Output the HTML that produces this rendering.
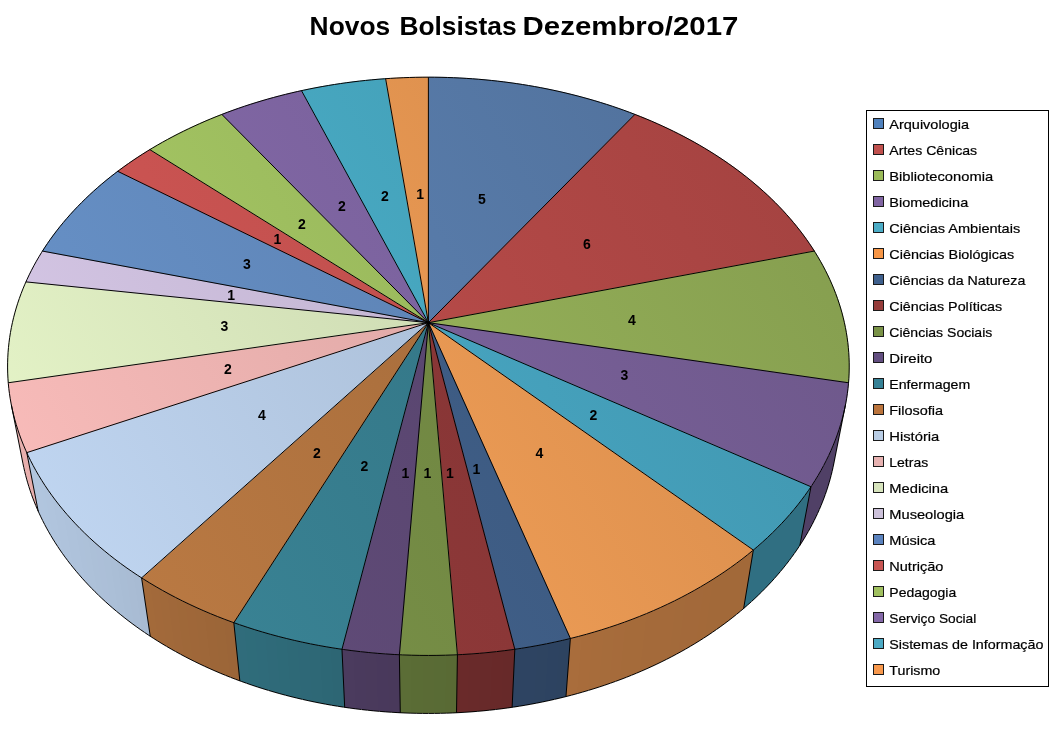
<!DOCTYPE html>
<html lang="pt-BR"><head><meta charset="utf-8"><title>Novos Bolsistas Dezembro/2017</title>
<style>html,body{margin:0;padding:0;background:#fff}body{width:1052px;height:740px;position:relative;overflow:hidden}</style>
</head><body>
<svg width="1052" height="740" viewBox="0 0 1052 740" style="position:absolute;left:0;top:0">
<g shape-rendering="crispEdges">
<polygon points="845.37,405.32 843.36,414.37 831.76,472.95 833.77,463.89" fill="#504066"/>
<polygon points="843.74,412.83 841.37,421.88 829.79,480.46 832.13,471.40" fill="#504066"/>
<polygon points="841.81,420.33 839.09,429.37 827.52,487.96 830.22,478.91" fill="#504066"/>
<polygon points="839.58,427.82 836.50,436.84 824.97,495.44 828.01,486.41" fill="#504066"/>
<polygon points="837.06,435.30 833.62,444.30 822.13,502.89 825.52,493.90" fill="#504066"/>
<polygon points="834.24,442.76 830.44,451.72 818.99,510.32 822.74,501.36" fill="#504066"/>
<polygon points="831.12,450.20 826.95,459.12 815.56,517.71 819.66,508.79" fill="#504066"/>
<polygon points="827.70,457.59 823.16,466.47 811.84,525.06 816.29,516.19" fill="#504066"/>
<polygon points="823.97,464.96 819.07,473.77 807.83,532.36 812.63,523.55" fill="#504066"/>
<polygon points="819.94,472.27 814.68,481.03 803.53,539.61 808.68,530.86" fill="#504066"/>
<polygon points="815.61,479.53 810.98,486.74 799.90,545.32 804.44,538.12" fill="#504066"/>
<polygon points="810.98,486.74 805.33,494.88 794.37,553.45 799.90,545.32" fill="#306f82"/>
<polygon points="806.38,493.41 800.41,501.47 789.56,560.03 795.40,551.98" fill="#306f82"/>
<polygon points="801.52,500.02 795.23,508.00 784.50,566.55 790.64,558.58" fill="#306f82"/>
<polygon points="796.39,506.57 789.78,514.46 779.18,572.99 785.64,565.12" fill="#306f82"/>
<polygon points="791.01,513.04 784.08,520.83 773.62,579.36 780.38,571.58" fill="#306f82"/>
<polygon points="785.37,519.43 778.13,527.12 767.81,585.63 774.87,577.96" fill="#306f82"/>
<polygon points="779.47,525.74 771.92,533.32 761.75,591.82 769.11,584.26" fill="#306f82"/>
<polygon points="773.31,531.96 765.45,539.43 755.45,597.91 763.11,590.46" fill="#306f82"/>
<polygon points="766.90,538.09 758.74,545.43 748.91,603.90 756.86,596.58" fill="#306f82"/>
<polygon points="760.24,544.12 753.34,550.04 743.65,608.49 750.37,602.59" fill="#306f82"/>
<polygon points="753.34,550.04 744.19,557.42 734.74,615.85 743.65,608.49" fill="#a26939"/>
<polygon points="745.80,556.15 736.34,563.38 727.09,621.79 736.31,614.59" fill="#a26939"/>
<polygon points="738.01,562.14 728.22,569.20 719.20,627.59 728.72,620.56" fill="#a26939"/>
<polygon points="729.94,567.99 719.85,574.88 711.06,633.25 720.88,626.39" fill="#a26939"/>
<polygon points="721.63,573.70 711.23,580.41 702.67,638.76 712.78,632.08" fill="#a26939"/>
<polygon points="713.06,579.26 702.36,585.78 694.05,644.12 704.45,637.62" fill="#a36939"/>
<polygon points="704.24,584.67 693.25,591.00 685.20,649.31 695.88,643.01" fill="#a3693a"/>
<polygon points="695.18,589.92 683.91,596.05 676.13,654.34 687.08,648.24" fill="#a3693a"/>
<polygon points="685.89,595.00 674.35,600.92 666.84,659.20 678.05,653.30" fill="#a36a3a"/>
<polygon points="676.37,599.91 664.56,605.62 657.34,663.88 668.81,658.19" fill="#a46a3a"/>
<polygon points="666.63,604.65 654.57,610.14 647.63,668.37 659.35,662.91" fill="#a46a3a"/>
<polygon points="656.68,609.21 644.37,614.46 637.73,672.68 649.69,667.44" fill="#a46a3a"/>
<polygon points="646.52,613.57 633.97,618.60 627.65,676.79 639.83,671.79" fill="#a56b3a"/>
<polygon points="636.17,617.75 623.39,622.53 617.38,680.71 629.78,675.95" fill="#a56b3a"/>
<polygon points="625.62,621.72 612.63,626.27 606.94,684.42 619.55,679.91" fill="#a66b3b"/>
<polygon points="614.90,625.50 601.70,629.79 596.34,687.93 609.14,683.66" fill="#a66c3b"/>
<polygon points="604.00,629.07 590.61,633.10 585.58,691.23 598.57,687.21" fill="#a76c3b"/>
<polygon points="592.95,632.43 579.36,636.20 574.68,694.31 587.85,690.55" fill="#a86c3b"/>
<polygon points="581.73,635.57 570.38,638.49 565.97,696.59 576.98,693.68" fill="#a96d3c"/>
<polygon points="570.38,638.49 557.05,641.60 553.05,699.68 565.97,696.59" fill="#2d4360"/>
<polygon points="559.47,641.06 546.00,643.92 542.34,701.99 555.40,699.14" fill="#2d4361"/>
<polygon points="548.45,643.43 534.86,646.04 531.55,704.09 544.72,701.50" fill="#2e4461"/>
<polygon points="537.33,645.59 523.63,647.94 520.66,705.99 533.94,703.65" fill="#2e4462"/>
<polygon points="526.12,647.54 514.82,649.28 512.12,707.32 523.07,705.59" fill="#2e4462"/>
<polygon points="514.82,649.28 500.93,651.12 498.66,709.14 512.12,707.32" fill="#672929"/>
<polygon points="503.45,650.81 489.48,652.38 487.57,710.40 501.10,708.84" fill="#682929"/>
<polygon points="492.01,652.12 477.98,653.43 476.43,711.44 490.02,710.14" fill="#682a2a"/>
<polygon points="480.52,653.22 466.43,654.26 465.24,712.27 478.89,711.23" fill="#692a2a"/>
<polygon points="468.98,654.10 457.41,654.76 456.51,712.76 467.72,712.11" fill="#6a2a2a"/>
<polygon points="457.41,654.76 443.26,655.26 442.79,713.27 456.51,712.76" fill="#596a34"/>
<polygon points="445.82,655.20 431.64,655.44 431.54,713.44 445.27,713.20" fill="#596b35"/>
<polygon points="434.21,655.42 420.03,655.39 420.29,713.39 434.03,713.42" fill="#5a6b35"/>
<polygon points="422.59,655.42 408.42,655.12 409.04,713.12 422.77,713.42" fill="#5a6c35"/>
<polygon points="410.98,655.20 399.39,654.76 400.29,712.76 411.53,713.20" fill="#5b6d36"/>
<polygon points="399.39,654.76 385.27,653.92 386.61,711.93 400.29,712.76" fill="#49395b"/>
<polygon points="387.82,654.10 373.74,653.00 375.45,711.01 389.08,712.11" fill="#49395c"/>
<polygon points="376.28,653.22 362.26,651.85 364.33,709.87 377.91,711.23" fill="#4a3a5c"/>
<polygon points="364.79,652.12 350.84,650.49 353.26,708.52 366.78,710.14" fill="#4a3a5d"/>
<polygon points="353.35,650.81 341.98,649.28 344.68,707.32 355.70,708.84" fill="#4b3b5e"/>
<polygon points="341.98,649.28 328.20,647.13 331.32,705.18 344.68,707.32" fill="#2d6674"/>
<polygon points="330.68,647.54 317.01,645.13 320.47,703.19 333.73,705.59" fill="#2d6775"/>
<polygon points="319.47,645.59 305.91,642.92 309.72,701.00 322.86,703.65" fill="#2e6876"/>
<polygon points="308.35,643.43 294.91,640.51 299.06,698.60 312.08,701.50" fill="#2e6877"/>
<polygon points="297.33,641.06 284.03,637.90 288.51,695.99 301.40,699.14" fill="#2e6977"/>
<polygon points="286.42,638.49 273.26,635.08 278.07,693.19 290.83,696.59" fill="#2e6a78"/>
<polygon points="275.63,635.72 262.63,632.07 267.76,690.20 280.37,693.83" fill="#2f6a79"/>
<polygon points="264.97,632.75 252.14,628.86 257.59,687.01 270.03,690.88" fill="#2f6b7a"/>
<polygon points="254.44,629.59 241.79,625.46 247.55,683.63 259.82,687.73" fill="#2f6c7a"/>
<polygon points="244.07,626.23 233.84,622.69 239.84,680.86 249.76,684.39" fill="#306c7b"/>
<polygon points="233.84,622.69 221.57,618.11 227.94,676.31 239.84,680.86" fill="#9b6538"/>
<polygon points="223.77,618.96 211.72,614.17 218.37,672.39 230.07,677.16" fill="#9c6638"/>
<polygon points="213.88,615.06 202.03,610.05 208.97,668.29 220.47,673.27" fill="#9d6638"/>
<polygon points="204.16,610.98 192.54,605.76 199.75,664.02 211.03,669.21" fill="#9e6739"/>
<polygon points="194.62,606.72 183.23,601.31 190.72,659.58 201.77,664.97" fill="#9f6739"/>
<polygon points="185.27,602.31 174.12,596.69 181.87,654.99 192.70,660.57" fill="#9f6839"/>
<polygon points="176.12,597.73 165.21,591.92 173.22,650.23 183.81,656.01" fill="#a0683a"/>
<polygon points="167.16,592.99 156.52,587.00 164.77,645.33 175.11,651.30" fill="#a1693a"/>
<polygon points="158.42,588.10 148.04,581.93 156.52,640.28 166.61,646.43" fill="#a2693a"/>
<polygon points="149.89,583.06 141.58,577.88 150.24,636.25 158.32,641.41" fill="#a36a3a"/>
<polygon points="141.58,577.88 131.32,571.09 140.27,629.48 150.24,636.25" fill="#a8bbd3"/>
<polygon points="133.07,572.28 123.12,565.32 132.29,623.72 141.97,630.67" fill="#a9bcd4"/>
<polygon points="124.82,566.54 115.18,559.40 124.56,617.83 133.94,624.94" fill="#a9bdd5"/>
<polygon points="116.82,560.65 107.50,553.36 117.09,611.80 126.16,619.08" fill="#aabed6"/>
<polygon points="109.09,554.64 100.09,547.18 109.87,605.65 118.63,613.08" fill="#abbfd7"/>
<polygon points="101.62,548.49 92.95,540.89 102.92,599.37 111.36,606.95" fill="#acbfd8"/>
<polygon points="94.43,542.22 86.09,534.49 96.23,592.99 104.35,600.70" fill="#acc0d8"/>
<polygon points="87.51,535.84 79.51,527.98 89.81,586.49 97.61,594.33" fill="#adc1d9"/>
<polygon points="80.87,529.35 73.21,521.37 83.66,579.89 91.14,587.86" fill="#adc1da"/>
<polygon points="74.51,522.76 67.19,514.66 77.79,573.20 84.93,581.28" fill="#aec2db"/>
<polygon points="68.43,516.07 61.46,507.87 72.20,566.42 79.00,574.61" fill="#aec2db"/>
<polygon points="62.64,509.30 56.02,500.99 66.88,559.55 73.35,567.85" fill="#afc3dc"/>
<polygon points="57.14,502.44 50.87,494.04 61.84,552.61 67.97,561.00" fill="#afc3dc"/>
<polygon points="51.93,495.51 46.01,487.02 57.09,545.60 62.88,554.07" fill="#b0c4dd"/>
<polygon points="47.01,488.50 41.44,479.94 52.61,538.53 58.06,547.08" fill="#b0c4dd"/>
<polygon points="42.38,481.43 37.17,472.81 48.42,531.40 53.53,540.02" fill="#b0c5de"/>
<polygon points="38.04,474.31 33.18,465.62 44.51,524.21 49.27,532.90" fill="#b1c5de"/>
<polygon points="33.99,467.13 29.49,458.39 40.88,516.98 45.31,525.72" fill="#b1c5de"/>
<polygon points="30.24,459.91 26.78,452.64 38.22,511.24 41.62,518.50" fill="#b1c5df"/>
<polygon points="26.78,452.64 23.22,444.40 34.72,503.00 38.22,511.24" fill="#e7aeac"/>
<polygon points="23.85,445.93 20.60,437.66 32.13,496.25 35.34,504.53" fill="#e7aead"/>
<polygon points="21.17,439.20 18.22,430.90 29.78,489.49 32.70,497.79" fill="#e7afad"/>
<polygon points="18.74,432.44 16.08,424.13 27.66,482.72 30.29,491.04" fill="#e7afad"/>
<polygon points="16.55,425.67 14.19,417.35 25.79,475.93 28.13,484.26" fill="#e7afad"/>
<polygon points="14.60,418.89 12.54,410.56 24.14,469.13 26.19,477.48" fill="#e7afad"/>
<polygon points="12.89,412.11 11.43,405.32 23.03,463.89 24.50,470.68" fill="#e7afad"/>
</g>
<defs>
<linearGradient id="g0" gradientUnits="userSpaceOnUse" x1="857.1" y1="65.5" x2="-0.3" y2="579.9"><stop offset="0" stop-color="#4e6d96"/><stop offset="1" stop-color="#628abe"/></linearGradient>
<linearGradient id="g1" gradientUnits="userSpaceOnUse" x1="857.1" y1="65.5" x2="-0.3" y2="579.9"><stop offset="0" stop-color="#a0413f"/><stop offset="1" stop-color="#ca5250"/></linearGradient>
<linearGradient id="g2" gradientUnits="userSpaceOnUse" x1="857.1" y1="65.5" x2="-0.3" y2="579.9"><stop offset="0" stop-color="#829a4d"/><stop offset="1" stop-color="#a5c362"/></linearGradient>
<linearGradient id="g3" gradientUnits="userSpaceOnUse" x1="857.1" y1="65.5" x2="-0.3" y2="579.9"><stop offset="0" stop-color="#6a5586"/><stop offset="1" stop-color="#866baa"/></linearGradient>
<linearGradient id="g4" gradientUnits="userSpaceOnUse" x1="857.1" y1="65.5" x2="-0.3" y2="579.9"><stop offset="0" stop-color="#3e90a8"/><stop offset="1" stop-color="#4eb5d4"/></linearGradient>
<linearGradient id="g5" gradientUnits="userSpaceOnUse" x1="857.1" y1="65.5" x2="-0.3" y2="579.9"><stop offset="0" stop-color="#cf8649"/><stop offset="1" stop-color="#ffa95c"/></linearGradient>
<linearGradient id="g6" gradientUnits="userSpaceOnUse" x1="857.1" y1="65.5" x2="-0.3" y2="579.9"><stop offset="0" stop-color="#365174"/><stop offset="1" stop-color="#456692"/></linearGradient>
<linearGradient id="g7" gradientUnits="userSpaceOnUse" x1="857.1" y1="65.5" x2="-0.3" y2="579.9"><stop offset="0" stop-color="#783030"/><stop offset="1" stop-color="#983c3c"/></linearGradient>
<linearGradient id="g8" gradientUnits="userSpaceOnUse" x1="857.1" y1="65.5" x2="-0.3" y2="579.9"><stop offset="0" stop-color="#63773b"/><stop offset="1" stop-color="#7e974a"/></linearGradient>
<linearGradient id="g9" gradientUnits="userSpaceOnUse" x1="857.1" y1="65.5" x2="-0.3" y2="579.9"><stop offset="0" stop-color="#4f3e63"/><stop offset="1" stop-color="#644e7d"/></linearGradient>
<linearGradient id="g10" gradientUnits="userSpaceOnUse" x1="857.1" y1="65.5" x2="-0.3" y2="579.9"><stop offset="0" stop-color="#2f6a79"/><stop offset="1" stop-color="#3b8799"/></linearGradient>
<linearGradient id="g11" gradientUnits="userSpaceOnUse" x1="857.1" y1="65.5" x2="-0.3" y2="579.9"><stop offset="0" stop-color="#966236"/><stop offset="1" stop-color="#be7c44"/></linearGradient>
<linearGradient id="g12" gradientUnits="userSpaceOnUse" x1="857.1" y1="65.5" x2="-0.3" y2="579.9"><stop offset="0" stop-color="#99abc1"/><stop offset="1" stop-color="#c2d8f4"/></linearGradient>
<linearGradient id="g13" gradientUnits="userSpaceOnUse" x1="857.1" y1="65.5" x2="-0.3" y2="579.9"><stop offset="0" stop-color="#c79795"/><stop offset="1" stop-color="#fcbebc"/></linearGradient>
<linearGradient id="g14" gradientUnits="userSpaceOnUse" x1="857.1" y1="65.5" x2="-0.3" y2="579.9"><stop offset="0" stop-color="#b7c3a0"/><stop offset="1" stop-color="#e8f7ca"/></linearGradient>
<linearGradient id="g15" gradientUnits="userSpaceOnUse" x1="857.1" y1="65.5" x2="-0.3" y2="579.9"><stop offset="0" stop-color="#ada1ba"/><stop offset="1" stop-color="#dacbeb"/></linearGradient>
<linearGradient id="g16" gradientUnits="userSpaceOnUse" x1="857.1" y1="65.5" x2="-0.3" y2="579.9"><stop offset="0" stop-color="#5476a2"/><stop offset="1" stop-color="#6a95cd"/></linearGradient>
<linearGradient id="g17" gradientUnits="userSpaceOnUse" x1="857.1" y1="65.5" x2="-0.3" y2="579.9"><stop offset="0" stop-color="#ab4745"/><stop offset="1" stop-color="#d85957"/></linearGradient>
<linearGradient id="g18" gradientUnits="userSpaceOnUse" x1="857.1" y1="65.5" x2="-0.3" y2="579.9"><stop offset="0" stop-color="#89a553"/><stop offset="1" stop-color="#aed168"/></linearGradient>
<linearGradient id="g19" gradientUnits="userSpaceOnUse" x1="857.1" y1="65.5" x2="-0.3" y2="579.9"><stop offset="0" stop-color="#6e588d"/><stop offset="1" stop-color="#8b6fb2"/></linearGradient>
<linearGradient id="g20" gradientUnits="userSpaceOnUse" x1="857.1" y1="65.5" x2="-0.3" y2="579.9"><stop offset="0" stop-color="#3e93a9"/><stop offset="1" stop-color="#4fbad6"/></linearGradient>
<linearGradient id="g21" gradientUnits="userSpaceOnUse" x1="857.1" y1="65.5" x2="-0.3" y2="579.9"><stop offset="0" stop-color="#cd8548"/><stop offset="1" stop-color="#ffa85b"/></linearGradient>
</defs>
<g>
<polygon points="428.40,322.70 428.40,77.19 434.70,77.22 441.00,77.32 447.30,77.48 453.59,77.71 459.88,78.00 466.17,78.36 472.45,78.78 478.72,79.26 484.98,79.82 491.22,80.43 497.46,81.11 503.69,81.86 509.90,82.66 516.09,83.54 522.27,84.48 528.43,85.48 534.58,86.54 540.70,87.68 546.80,88.87 552.88,90.13 558.94,91.45 564.97,92.84 570.97,94.29 576.95,95.80 582.90,97.38 588.82,99.02 594.71,100.73 600.56,102.49 606.38,104.32 612.17,106.22 617.92,108.17 623.64,110.19 629.32,112.27 634.95,114.42" fill="url(#g0)" stroke="#5578a5" stroke-width="0.6"/>
<polygon points="428.40,322.70 634.95,114.42 640.52,116.61 646.05,118.86 651.53,121.18 656.97,123.56 662.36,125.99 667.70,128.49 673.00,131.05 678.25,133.67 683.44,136.34 688.59,139.08 693.68,141.87 698.71,144.73 703.69,147.64 708.61,150.61 713.47,153.63 718.26,156.72 723.00,159.86 727.67,163.06 732.28,166.31 736.83,169.62 741.30,172.99 745.71,176.41 750.04,179.88 754.30,183.41 758.49,186.99 762.61,190.62 766.64,194.31 770.60,198.05 774.49,201.84 778.29,205.68 782.00,209.57 785.64,213.51 789.19,217.49 792.65,221.53 796.02,225.62 799.31,229.75 802.50,233.92 805.61,238.14 808.61,242.41 811.53,246.72 814.34,251.07" fill="url(#g1)" stroke="#ac4644" stroke-width="0.6"/>
<polygon points="428.40,322.70 814.34,251.07 817.00,255.36 819.55,259.69 822.02,264.06 824.38,268.46 826.65,272.90 828.81,277.38 830.88,281.89 832.84,286.44 834.69,291.02 836.44,295.63 838.09,300.27 839.62,304.94 841.05,309.64 842.37,314.36 843.57,319.12 844.66,323.90 845.64,328.70 846.50,333.53 847.25,338.37 847.87,343.24 848.38,348.13 848.77,353.03 849.04,357.96 849.19,362.89 849.21,367.84 849.11,372.81 848.89,377.78 848.53,382.77" fill="url(#g2)" stroke="#8ca653" stroke-width="0.6"/>
<polygon points="428.40,322.70 848.53,382.77 848.06,387.76 847.45,392.75 846.72,397.76 845.86,402.76 844.87,407.77 843.75,412.78 842.50,417.79 841.11,422.79 839.60,427.79 837.95,432.78 836.17,437.76 834.25,442.74 832.20,447.70 830.02,452.64 827.70,457.58 825.25,462.49 822.67,467.39 819.95,472.26 817.09,477.11 814.10,481.94 810.98,486.74" fill="url(#g3)" stroke="#735c92" stroke-width="0.6"/>
<polygon points="428.40,322.70 810.98,486.74 807.72,491.51 804.33,496.25 800.80,500.96 797.14,505.64 793.35,510.27 789.42,514.87 785.37,519.43 781.18,523.95 776.86,528.42 772.41,532.84 767.83,537.22 763.13,541.54 758.30,545.82 753.34,550.04" fill="url(#g4)" stroke="#449eb9" stroke-width="0.6"/>
<polygon points="428.40,322.70 753.34,550.04 748.26,554.20 743.05,558.30 737.72,562.35 732.27,566.33 726.71,570.25 721.02,574.10 715.22,577.88 709.31,581.60 703.28,585.24 697.14,588.81 690.90,592.30 684.55,595.71 678.09,599.05 671.53,602.31 664.87,605.48 658.12,608.57 651.27,611.57 644.32,614.48 637.29,617.31 630.17,620.04 622.96,622.69 615.67,625.24 608.30,627.69 600.86,630.05 593.34,632.31 585.76,634.47 578.10,636.53 570.38,638.49" fill="url(#g5)" stroke="#e89652" stroke-width="0.6"/>
<polygon points="428.40,322.70 570.38,638.49 562.60,640.35 554.76,642.10 546.87,643.75 538.92,645.29 530.93,646.73 522.90,648.06 514.82,649.28" fill="url(#g6)" stroke="#3e5c84" stroke-width="0.6"/>
<polygon points="428.40,322.70 514.82,649.28 506.70,650.40 498.55,651.40 490.37,652.29 482.16,653.08 473.93,653.75 465.68,654.31 457.41,654.76" fill="url(#g7)" stroke="#8a3737" stroke-width="0.6"/>
<polygon points="428.40,322.70 457.41,654.76 449.13,655.09 440.84,655.32 432.55,655.43 424.25,655.43 415.96,655.32 407.67,655.09 399.39,654.76" fill="url(#g8)" stroke="#738a44" stroke-width="0.6"/>
<polygon points="428.40,322.70 399.39,654.76 391.12,654.31 382.87,653.75 374.64,653.08 366.43,652.29 358.25,651.40 350.10,650.40 341.98,649.28" fill="url(#g9)" stroke="#5c4873" stroke-width="0.6"/>
<polygon points="428.40,322.70 341.98,649.28 333.90,648.06 325.87,646.73 317.88,645.29 309.93,643.75 302.04,642.10 294.20,640.35 286.42,638.49 278.70,636.53 271.04,634.47 263.46,632.31 255.94,630.05 248.50,627.69 241.13,625.24 233.84,622.69" fill="url(#g10)" stroke="#377d8e" stroke-width="0.6"/>
<polygon points="428.40,322.70 233.84,622.69 226.63,620.04 219.51,617.31 212.48,614.48 205.53,611.57 198.68,608.57 191.93,605.48 185.27,602.31 178.71,599.05 172.25,595.71 165.90,592.30 159.66,588.81 153.52,585.24 147.49,581.60 141.58,577.88" fill="url(#g11)" stroke="#b27440" stroke-width="0.6"/>
<polygon points="428.40,322.70 141.58,577.88 135.78,574.10 130.09,570.25 124.53,566.33 119.08,562.35 113.75,558.30 108.54,554.20 103.46,550.04 98.50,545.82 93.67,541.54 88.97,537.22 84.39,532.84 79.94,528.42 75.62,523.95 71.43,519.43 67.38,514.87 63.45,510.27 59.66,505.64 56.00,500.96 52.47,496.25 49.08,491.51 45.82,486.74 42.70,481.94 39.71,477.11 36.85,472.26 34.13,467.39 31.55,462.49 29.10,457.58 26.78,452.64" fill="url(#g12)" stroke="#b7cce6" stroke-width="0.6"/>
<polygon points="428.40,322.70 26.78,452.64 24.60,447.70 22.55,442.74 20.63,437.76 18.85,432.78 17.20,427.79 15.69,422.79 14.30,417.79 13.05,412.78 11.93,407.77 10.94,402.76 10.08,397.76 9.35,392.75 8.74,387.76 8.27,382.77" fill="url(#g13)" stroke="#eeb4b2" stroke-width="0.6"/>
<polygon points="428.40,322.70 8.27,382.77 7.91,377.78 7.69,372.81 7.59,367.84 7.61,362.89 7.76,357.96 8.03,353.03 8.42,348.13 8.93,343.24 9.55,338.37 10.30,333.53 11.16,328.70 12.14,323.90 13.23,319.12 14.43,314.36 15.75,309.64 17.18,304.94 18.71,300.27 20.36,295.63 22.11,291.02 23.96,286.44 25.92,281.89" fill="url(#g14)" stroke="#dae8be" stroke-width="0.6"/>
<polygon points="428.40,322.70 25.92,281.89 27.99,277.38 30.15,272.90 32.42,268.46 34.78,264.06 37.25,259.69 39.80,255.36 42.46,251.07" fill="url(#g15)" stroke="#ccbedc" stroke-width="0.6"/>
<polygon points="428.40,322.70 42.46,251.07 45.21,246.82 48.05,242.61 50.98,238.45 54.00,234.32 57.11,230.24 60.30,226.20 63.58,222.21 66.95,218.26 70.39,214.36 73.92,210.50 77.53,206.69 81.22,202.93 84.99,199.21 88.83,195.55 92.74,191.93 96.73,188.37 100.79,184.85 104.92,181.38 109.12,177.97 113.39,174.61 117.73,171.30" fill="url(#g16)" stroke="#628abe" stroke-width="0.6"/>
<polygon points="428.40,322.70 117.73,171.30 122.13,168.04 126.59,164.83 131.12,161.68 135.71,158.58 140.36,155.54 145.06,152.55 149.83,149.61" fill="url(#g17)" stroke="#c65250" stroke-width="0.6"/>
<polygon points="428.40,322.70 149.83,149.61 154.65,146.73 159.52,143.90 164.45,141.14 169.43,138.42 174.47,135.76 179.55,133.16 184.68,130.62 189.86,128.13 195.08,125.70 200.35,123.33 205.66,121.01 211.02,118.76 216.41,116.56 221.85,114.42" fill="url(#g18)" stroke="#9ebe5f" stroke-width="0.6"/>
<polygon points="428.40,322.70 221.85,114.42 227.32,112.33 232.83,110.31 238.38,108.34 243.97,106.44 249.59,104.59 255.24,102.80 260.92,101.07 266.63,99.41 272.38,97.80 278.15,96.25 283.95,94.76 289.77,93.33 295.62,91.96 301.49,90.65" fill="url(#g19)" stroke="#7d64a0" stroke-width="0.6"/>
<polygon points="428.40,322.70 301.49,90.65 307.39,89.40 313.31,88.21 319.25,87.09 325.20,86.02 331.18,85.01 337.17,84.07 343.18,83.18 349.21,82.36 355.25,81.59 361.30,80.89 367.36,80.25 373.43,79.67 379.52,79.15 385.61,78.69" fill="url(#g20)" stroke="#46a5be" stroke-width="0.6"/>
<polygon points="428.40,322.70 385.61,78.69 391.71,78.29 397.81,77.96 403.92,77.68 410.04,77.47 416.16,77.31 422.28,77.22 428.40,77.19" fill="url(#g21)" stroke="#e49450" stroke-width="0.6"/>
</g>
<g fill="none" stroke="#000" stroke-width="0.99" shape-rendering="crispEdges" stroke-linejoin="round">
<polyline points="845.37,405.32 833.77,463.89 832.97,467.70 832.11,471.51 831.17,475.31 830.16,479.12 829.07,482.92 827.91,486.72 826.68,490.52 825.37,494.31 823.99,498.10 822.53,501.87 821.00,505.64 819.39,509.41 817.71,513.16 815.95,516.90 814.12,520.64 812.21,524.36 810.23,528.07 808.17,531.77 806.04,535.45 803.83,539.12 801.54,542.77 799.18,546.41 796.75,550.03 794.24,553.63 791.66,557.21 789.00,560.77 786.27,564.32 783.46,567.84 780.58,571.34 777.63,574.81 774.60,578.26 771.50,581.69 768.32,585.09 765.08,588.46 761.76,591.81 758.37,595.13 754.91,598.42 751.38,601.68 747.78,604.90 744.10,608.10 740.36,611.26 736.55,614.39 732.67,617.49 728.73,620.55 724.71,623.57 720.63,626.56 716.49,629.51 712.28,632.42 708.00,635.30 703.67,638.13 699.26,640.92 694.80,643.67 690.28,646.37 685.69,649.04 681.05,651.65 676.34,654.23 671.58,656.76 666.76,659.24 661.89,661.67 656.96,664.06 651.98,666.39 646.94,668.68 641.85,670.92 636.71,673.11 631.53,675.24 626.29,677.33 621.00,679.36 615.67,681.34 610.30,683.26 604.88,685.13 599.41,686.94 593.91,688.70 588.36,690.40 582.78,692.04 577.16,693.63 571.50,695.16 565.81,696.63 560.08,698.04 554.32,699.39 548.53,700.68 542.71,701.92 536.86,703.09 530.98,704.20 525.08,705.25 519.16,706.23 513.21,707.16 507.24,708.02 501.25,708.82 495.24,709.56 489.22,710.23 483.18,710.84 477.13,711.38 471.07,711.87 464.99,712.29 458.91,712.64 452.81,712.93 446.72,713.16 440.61,713.32 434.51,713.41 428.40,713.45 422.29,713.41 416.19,713.32 410.08,713.16 403.99,712.93 397.89,712.64 391.81,712.29 385.73,711.87 379.67,711.38 373.62,710.84 367.58,710.23 361.56,709.56 355.55,708.82 349.56,708.02 343.59,707.16 337.64,706.23 331.72,705.25 325.82,704.20 319.94,703.09 314.09,701.92 308.27,700.68 302.48,699.39 296.72,698.04 290.99,696.63 285.30,695.16 279.64,693.63 274.02,692.04 268.44,690.40 262.89,688.70 257.39,686.94 251.92,685.13 246.50,683.26 241.13,681.34 235.80,679.36 230.51,677.33 225.27,675.24 220.09,673.11 214.95,670.92 209.86,668.68 204.82,666.39 199.84,664.06 194.91,661.67 190.04,659.24 185.22,656.76 180.46,654.23 175.75,651.65 171.11,649.04 166.52,646.37 162.00,643.67 157.54,640.92 153.13,638.13 148.80,635.30 144.52,632.42 140.31,629.51 136.17,626.56 132.09,623.57 128.07,620.55 124.13,617.49 120.25,614.39 116.44,611.26 112.70,608.10 109.02,604.90 105.42,601.68 101.89,598.42 98.43,595.13 95.04,591.81 91.72,588.46 88.48,585.09 85.30,581.69 82.20,578.26 79.17,574.81 76.22,571.34 73.34,567.84 70.53,564.32 67.80,560.77 65.14,557.21 62.56,553.63 60.05,550.03 57.62,546.41 55.26,542.77 52.97,539.12 50.76,535.45 48.63,531.77 46.57,528.07 44.59,524.36 42.68,520.64 40.85,516.90 39.09,513.16 37.41,509.41 35.80,505.64 34.27,501.87 32.81,498.10 31.43,494.31 30.12,490.52 28.89,486.72 27.73,482.92 26.64,479.12 25.63,475.31 24.69,471.51 23.83,467.70 23.03,463.89 11.43,405.32"/>
<polyline points="810.98,486.74 799.90,545.32"/>
<polyline points="753.34,550.04 743.65,608.49"/>
<polyline points="570.38,638.49 565.97,696.59"/>
<polyline points="514.82,649.28 512.12,707.32"/>
<polyline points="457.41,654.76 456.51,712.76"/>
<polyline points="399.39,654.76 400.29,712.76"/>
<polyline points="341.98,649.28 344.68,707.32"/>
<polyline points="233.84,622.69 239.84,680.86"/>
<polyline points="141.58,577.88 150.24,636.25"/>
<polyline points="26.78,452.64 38.22,511.24"/>
<polygon points="428.40,77.19 434.71,77.22 441.02,77.32 447.32,77.48 453.62,77.71 459.92,78.00 466.21,78.36 472.50,78.78 478.77,79.27 485.04,79.82 491.29,80.44 497.54,81.12 503.77,81.87 509.99,82.68 516.19,83.55 522.37,84.49 528.54,85.50 534.69,86.57 540.82,87.70 546.93,88.90 553.01,90.16 559.08,91.48 565.11,92.87 571.12,94.33 577.11,95.84 583.06,97.43 588.99,99.07 594.88,100.78 600.74,102.55 606.57,104.38 612.37,106.28 618.12,108.24 623.84,110.26 629.52,112.35 635.16,114.50 640.76,116.71 646.32,118.98 651.84,121.31 657.30,123.71 662.72,126.16 668.10,128.68 673.42,131.26 678.70,133.89 683.92,136.59 689.09,139.35 694.20,142.17 699.26,145.04 704.26,147.98 709.20,150.97 714.08,154.03 718.90,157.14 723.66,160.30 728.35,163.53 732.98,166.81 737.54,170.15 742.03,173.54 746.45,176.99 750.80,180.50 755.07,184.06 759.27,187.67 763.40,191.34 767.44,195.05 771.41,198.83 775.30,202.65 779.11,206.52 782.83,210.45 786.46,214.42 790.01,218.45 793.48,222.52 796.85,226.64 800.13,230.80 803.32,235.02 806.42,239.28 809.42,243.58 812.32,247.93 815.13,252.32 817.83,256.75 820.43,261.23 822.93,265.74 825.33,270.30 827.62,274.89 829.81,279.52 831.88,284.19 833.85,288.89 835.70,293.62 837.44,298.39 839.07,303.20 840.58,308.03 841.97,312.89 843.24,317.78 844.40,322.70 845.43,327.64 846.35,332.61 847.14,337.61 847.80,342.62 848.34,347.65 848.75,352.71 849.03,357.78 849.19,362.87 849.21,367.97 849.10,373.08 848.86,378.21 848.49,383.35 847.98,388.49 847.33,393.64 846.55,398.80 845.63,403.96 844.58,409.12 843.39,414.28 842.05,419.44 840.58,424.59 838.97,429.74 837.21,434.88 835.32,440.02 833.28,445.13 831.10,450.24 828.78,455.33 826.31,460.41 823.70,465.46 820.95,470.49 818.06,475.50 815.02,480.48 811.84,485.44 808.52,490.36 805.05,495.26 801.45,500.11 797.70,504.94 793.81,509.72 789.78,514.46 785.61,519.16 781.30,523.82 776.85,528.43 772.26,532.99 767.54,537.50 762.68,541.95 757.68,546.35 752.56,550.69 747.30,554.97 741.91,559.19 736.39,563.34 730.74,567.43 724.97,571.44 719.07,575.39 713.05,579.26 706.91,583.06 700.65,586.78 694.28,590.43 687.79,593.99 681.19,597.47 674.48,600.86 667.66,604.17 660.74,607.38 653.71,610.51 646.59,613.55 639.37,616.49 632.05,619.33 624.65,622.08 617.16,624.73 609.58,627.28 601.92,629.72 594.18,632.06 586.37,634.30 578.48,636.43 570.53,638.45 562.51,640.37 554.43,642.17 546.30,643.87 538.11,645.45 529.86,646.92 521.57,648.27 513.24,649.51 504.87,650.63 496.46,651.64 488.03,652.53 479.56,653.30 471.07,653.95 462.56,654.49 454.03,654.91 445.50,655.21 436.95,655.39 428.40,655.45 419.85,655.39 411.30,655.21 402.77,654.91 394.24,654.49 385.73,653.95 377.24,653.30 368.77,652.53 360.34,651.64 351.93,650.63 343.56,649.51 335.23,648.27 326.94,646.92 318.69,645.45 310.50,643.87 302.37,642.17 294.29,640.37 286.27,638.45 278.32,636.43 270.43,634.30 262.62,632.06 254.88,629.72 247.22,627.28 239.64,624.73 232.15,622.08 224.75,619.33 217.43,616.49 210.21,613.55 203.09,610.51 196.06,607.38 189.14,604.17 182.32,600.86 175.61,597.47 169.01,593.99 162.52,590.43 156.15,586.78 149.89,583.06 143.75,579.26 137.73,575.39 131.83,571.44 126.06,567.43 120.41,563.34 114.89,559.19 109.50,554.97 104.24,550.69 99.12,546.35 94.12,541.95 89.26,537.50 84.54,532.99 79.95,528.43 75.50,523.82 71.19,519.16 67.02,514.46 62.99,509.72 59.10,504.94 55.35,500.11 51.75,495.26 48.28,490.36 44.96,485.44 41.78,480.48 38.74,475.50 35.85,470.49 33.10,465.46 30.49,460.41 28.02,455.33 25.70,450.24 23.52,445.13 21.48,440.02 19.59,434.88 17.83,429.74 16.22,424.59 14.75,419.44 13.41,414.28 12.22,409.12 11.17,403.96 10.25,398.80 9.47,393.64 8.82,388.49 8.31,383.35 7.94,378.21 7.70,373.08 7.59,367.97 7.61,362.87 7.77,357.78 8.05,352.71 8.46,347.65 9.00,342.62 9.66,337.61 10.45,332.61 11.37,327.64 12.40,322.70 13.56,317.78 14.83,312.89 16.22,308.03 17.73,303.20 19.36,298.39 21.10,293.62 22.95,288.89 24.92,284.19 26.99,279.52 29.18,274.89 31.47,270.30 33.87,265.74 36.37,261.23 38.97,256.75 41.67,252.32 44.48,247.93 47.38,243.58 50.38,239.28 53.48,235.02 56.67,230.80 59.95,226.64 63.32,222.52 66.79,218.45 70.34,214.42 73.97,210.45 77.69,206.52 81.50,202.65 85.39,198.83 89.36,195.05 93.40,191.34 97.53,187.67 101.73,184.06 106.00,180.50 110.35,176.99 114.77,173.54 119.26,170.15 123.82,166.81 128.45,163.53 133.14,160.30 137.90,157.14 142.72,154.03 147.60,150.97 152.54,147.98 157.54,145.04 162.60,142.17 167.71,139.35 172.88,136.59 178.10,133.89 183.38,131.26 188.70,128.68 194.08,126.16 199.50,123.71 204.96,121.31 210.48,118.98 216.04,116.71 221.64,114.50 227.28,112.35 232.96,110.26 238.68,108.24 244.43,106.28 250.23,104.38 256.06,102.55 261.92,100.78 267.81,99.07 273.74,97.43 279.69,95.84 285.68,94.33 291.69,92.87 297.72,91.48 303.79,90.16 309.87,88.90 315.98,87.70 322.11,86.57 328.26,85.50 334.43,84.49 340.61,83.55 346.81,82.68 353.03,81.87 359.26,81.12 365.51,80.44 371.76,79.82 378.03,79.27 384.30,78.78 390.59,78.36 396.88,78.00 403.18,77.71 409.48,77.48 415.78,77.32 422.09,77.22"/>
<polyline points="428.40,322.70 428.40,77.19"/>
<polyline points="428.40,322.70 634.95,114.42"/>
<polyline points="428.40,322.70 814.34,251.07"/>
<polyline points="428.40,322.70 848.53,382.77"/>
<polyline points="428.40,322.70 810.98,486.74"/>
<polyline points="428.40,322.70 753.34,550.04"/>
<polyline points="428.40,322.70 570.38,638.49"/>
<polyline points="428.40,322.70 514.82,649.28"/>
<polyline points="428.40,322.70 457.41,654.76"/>
<polyline points="428.40,322.70 399.39,654.76"/>
<polyline points="428.40,322.70 341.98,649.28"/>
<polyline points="428.40,322.70 233.84,622.69"/>
<polyline points="428.40,322.70 141.58,577.88"/>
<polyline points="428.40,322.70 26.78,452.64"/>
<polyline points="428.40,322.70 8.27,382.77"/>
<polyline points="428.40,322.70 25.92,281.89"/>
<polyline points="428.40,322.70 42.46,251.07"/>
<polyline points="428.40,322.70 117.73,171.30"/>
<polyline points="428.40,322.70 149.83,149.61"/>
<polyline points="428.40,322.70 221.85,114.42"/>
<polyline points="428.40,322.70 301.49,90.65"/>
<polyline points="428.40,322.70 385.61,78.69"/>
</g>
<g font-family="'Liberation Sans', Arial, sans-serif" font-weight="bold" font-size="14" fill="#000" text-anchor="middle">
<text x="481.8" y="203.9">5</text>
<text x="587.0" y="249.0">6</text>
<text x="632.0" y="325.0">4</text>
<text x="624.5" y="379.6">3</text>
<text x="593.5" y="420.0">2</text>
<text x="539.5" y="457.5">4</text>
<text x="476.5" y="474.0">1</text>
<text x="450.0" y="478.0">1</text>
<text x="427.5" y="478.0">1</text>
<text x="405.5" y="478.0">1</text>
<text x="364.5" y="471.0">2</text>
<text x="317.0" y="458.0">2</text>
<text x="262.0" y="420.0">4</text>
<text x="228.0" y="373.5">2</text>
<text x="224.5" y="331.0">3</text>
<text x="231.2" y="299.5">1</text>
<text x="247.0" y="269.3">3</text>
<text x="277.5" y="243.5">1</text>
<text x="302.0" y="229.0">2</text>
<text x="342.0" y="211.0">2</text>
<text x="385.0" y="201.0">2</text>
<text x="420.2" y="199.2">1</text>
</g>
<text y="35.4" font-family="'Liberation Sans', Arial, sans-serif" font-weight="bold" font-size="25.7" fill="#000"><tspan x="309.6" textLength="80.6" lengthAdjust="spacingAndGlyphs">Novos</tspan> <tspan x="399.4" textLength="117.2" lengthAdjust="spacingAndGlyphs">Bolsistas</tspan> <tspan x="522.6" textLength="215.8" lengthAdjust="spacingAndGlyphs">Dezembro/2017</tspan></text>
<rect x="866.5" y="110.5" width="182" height="576" fill="#fff" stroke="#000" stroke-width="1" shape-rendering="crispEdges"/>
<g shape-rendering="crispEdges" stroke="#1a1a1a" stroke-width="1">
<rect x="873.5" y="118.5" width="10" height="10" fill="#4f81bd"/>
<rect x="873.5" y="144.5" width="10" height="10" fill="#c0504d"/>
<rect x="873.5" y="170.5" width="10" height="10" fill="#9bbb59"/>
<rect x="873.5" y="196.5" width="10" height="10" fill="#8064a2"/>
<rect x="873.5" y="222.5" width="10" height="10" fill="#4bacc6"/>
<rect x="873.5" y="248.5" width="10" height="10" fill="#f79646"/>
<rect x="873.5" y="274.5" width="10" height="10" fill="#3e5f8c"/>
<rect x="873.5" y="300.5" width="10" height="10" fill="#963c3a"/>
<rect x="873.5" y="326.5" width="10" height="10" fill="#799246"/>
<rect x="873.5" y="352.5" width="10" height="10" fill="#624e80"/>
<rect x="873.5" y="378.5" width="10" height="10" fill="#358196"/>
<rect x="873.5" y="404.5" width="10" height="10" fill="#bb743c"/>
<rect x="873.5" y="430.5" width="10" height="10" fill="#b9cde5"/>
<rect x="873.5" y="456.5" width="10" height="10" fill="#e7b2b1"/>
<rect x="873.5" y="482.5" width="10" height="10" fill="#d7e4bd"/>
<rect x="873.5" y="508.5" width="10" height="10" fill="#ccc1da"/>
<rect x="873.5" y="534.5" width="10" height="10" fill="#5a82be"/>
<rect x="873.5" y="560.5" width="10" height="10" fill="#c85552"/>
<rect x="873.5" y="586.5" width="10" height="10" fill="#a0c05f"/>
<rect x="873.5" y="612.5" width="10" height="10" fill="#8468a8"/>
<rect x="873.5" y="638.5" width="10" height="10" fill="#4caac5"/>
<rect x="873.5" y="664.5" width="10" height="10" fill="#f8984c"/>
</g>
<g font-family="'Liberation Sans', Arial, sans-serif" font-size="13" fill="#000" stroke="#000" stroke-width="0.2">
<text x="889.3" y="128.5" textLength="79.7" lengthAdjust="spacingAndGlyphs">Arquivologia</text>
<text x="889.3" y="154.5" textLength="87.8" lengthAdjust="spacingAndGlyphs">Artes Cênicas</text>
<text x="889.3" y="180.5" textLength="103.8" lengthAdjust="spacingAndGlyphs">Biblioteconomia</text>
<text x="889.3" y="206.5" textLength="78.9" lengthAdjust="spacingAndGlyphs">Biomedicina</text>
<text x="889.3" y="232.5" textLength="130.9" lengthAdjust="spacingAndGlyphs">Ciências Ambientais</text>
<text x="889.3" y="258.5" textLength="124.9" lengthAdjust="spacingAndGlyphs">Ciências Biológicas</text>
<text x="889.3" y="284.5" textLength="136.0" lengthAdjust="spacingAndGlyphs">Ciências da Natureza</text>
<text x="889.3" y="310.5" textLength="112.9" lengthAdjust="spacingAndGlyphs">Ciências Políticas</text>
<text x="889.3" y="336.5" textLength="103.0" lengthAdjust="spacingAndGlyphs">Ciências Sociais</text>
<text x="889.3" y="362.5" textLength="43.1" lengthAdjust="spacingAndGlyphs">Direito</text>
<text x="889.3" y="388.5" textLength="80.9" lengthAdjust="spacingAndGlyphs">Enfermagem</text>
<text x="889.3" y="414.5" textLength="53.8" lengthAdjust="spacingAndGlyphs">Filosofia</text>
<text x="889.3" y="440.5" textLength="50.0" lengthAdjust="spacingAndGlyphs">História</text>
<text x="889.3" y="466.5" textLength="38.9" lengthAdjust="spacingAndGlyphs">Letras</text>
<text x="889.3" y="492.5" textLength="58.9" lengthAdjust="spacingAndGlyphs">Medicina</text>
<text x="889.3" y="518.5" textLength="74.9" lengthAdjust="spacingAndGlyphs">Museologia</text>
<text x="889.3" y="544.5" textLength="46.1" lengthAdjust="spacingAndGlyphs">Música</text>
<text x="889.3" y="570.5" textLength="54.1" lengthAdjust="spacingAndGlyphs">Nutrição</text>
<text x="889.3" y="596.5" textLength="66.9" lengthAdjust="spacingAndGlyphs">Pedagogia</text>
<text x="889.3" y="622.5" textLength="87.0" lengthAdjust="spacingAndGlyphs">Serviço Social</text>
<text x="889.3" y="648.5" textLength="154.1" lengthAdjust="spacingAndGlyphs">Sistemas de Informação</text>
<text x="889.3" y="674.5" textLength="50.9" lengthAdjust="spacingAndGlyphs">Turismo</text>
</g>
</svg>
</body></html>
